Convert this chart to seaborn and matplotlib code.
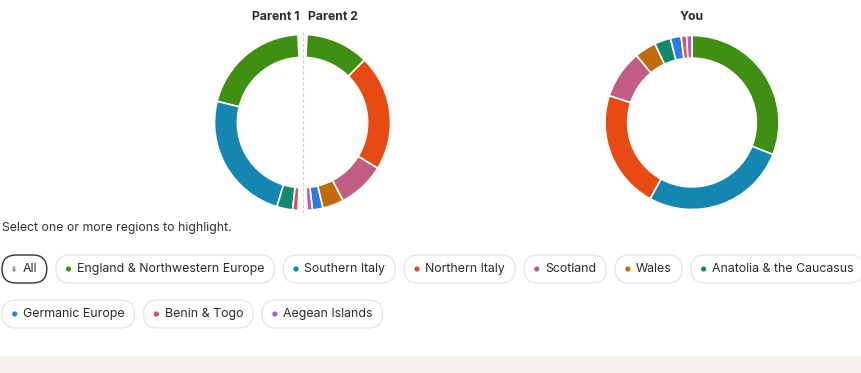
import matplotlib
matplotlib.use('Agg')
import matplotlib.pyplot as plt
import seaborn as sns
from matplotlib.patches import FancyBboxPatch, Circle

# --- data ---
regions = ['England & Northwestern Europe', 'Southern Italy', 'Northern Italy', 'Scotland', 'Wales',
           'Anatolia & the Caucasus', 'Germanic Europe', 'Benin & Togo', 'Aegean Islands']
region_colors = ['#3f8f13', '#1386b1', '#e84a14', '#c15d82', '#c26b0b',
                 '#0f8a6f', '#2b7de5', '#db5350', '#b35cc4']

parent1_pct = [42, 50, 0, 0, 0, 6, 0, 2, 0]
parent2_pct = [24, 0, 44, 18, 8, 0, 4, 0, 2]
you_pct = [31, 27, 22, 9, 4, 3, 2, 1, 1]

sns.set_theme(style='white')
plt.rcParams['font.family'] = ['Inter', 'DejaVu Sans']

W, H = 861, 373
fig = plt.figure(figsize=(W / 100, H / 100), dpi=100)
fig.patch.set_facecolor('white')

# background axes in pixel coords
bg = fig.add_axes([0, 0, 1, 1])
bg.set_xlim(0, W)
bg.set_ylim(H, 0)
bg.axis('off')


def donut_ax(cx, cy, r):
    size = 200
    ax = fig.add_axes([(cx - size / 2) / W, (H - cy - size / 2) / H, size / W, size / H])
    ax.set_aspect('equal')
    ax.axis('off')
    return ax, size / 2 / r


def nonzero(vals):
    pairs = [(v, c) for v, c in zip(vals, region_colors) if v > 0]
    return [p[0] for p in pairs], [p[1] for p in pairs]


wprops = dict(width=0.26, edgecolor='white', linewidth=1.2)
gap = 3.0
span = 180 - 2 * gap

# parents: one half-ring each
ax_p, lim = donut_ax(302.5, 122.5, 88)
v1, c1 = nonzero(parent1_pct)
ax_p.pie([v / 100 * span / 360 for v in v1], colors=c1, startangle=90 + gap,
         counterclock=True, normalize=False, wedgeprops=wprops, radius=1)
v2, c2 = nonzero(parent2_pct)
ax_p.pie([v / 100 * span / 360 for v in v2], colors=c2, startangle=90 - gap,
         counterclock=False, normalize=False, wedgeprops=wprops, radius=1)
ax_p.set_xlim(-lim, lim)
ax_p.set_ylim(-lim, lim)

# you
ax_y, lim = donut_ax(692, 122.5, 87)
vy, cy_ = nonzero(you_pct)
ax_y.pie(vy, colors=cy_, startangle=90, counterclock=False, wedgeprops=wprops, radius=1)
ax_y.set_xlim(-lim, lim)
ax_y.set_ylim(-lim, lim)

# divider and titles
bg.plot([302.5, 302.5], [32, 213], ls=(0, (3, 2)), color='#cfcfcf', lw=0.8)
bg.text(300, 17, 'Parent 1', ha='right', va='center', fontsize=8.8, weight='bold', color='#2b2b2b')
bg.text(307.5, 17, 'Parent 2', ha='left', va='center', fontsize=8.8, weight='bold', color='#2b2b2b')
bg.text(692, 17, 'You', ha='center', va='center', fontsize=8.8, weight='bold', color='#2b2b2b')

bg.text(2, 228, 'Select one or more regions to highlight.', ha='left', va='center',
        fontsize=8.85, color='#333333')

# region pills
renderer = fig.canvas.get_renderer()
labels = ['All'] + regions
rows = [0] * 7 + [1] * 3
row_y = [269, 314]
x = 2
prev_row = 0
for i, lab in enumerate(labels):
    row = rows[i]
    if row != prev_row:
        x = 2
        prev_row = row
    yc = row_y[row]
    t = bg.text(0, yc, lab, ha='left', va='center', fontsize=8.9, color='#2b2b2b')
    tw = t.get_window_extent(renderer).width
    dot_x = x + (12 if i == 0 else 12.7)
    t.set_x(dot_x + 8.3)
    pw = (dot_x + 8.3 + tw + 10) - x
    if i == 0:
        pill = FancyBboxPatch((x, yc - 14), pw, 28, boxstyle='round,pad=0,rounding_size=14',
                              fc='white', ec='#333333', lw=1.0)
        bg.add_patch(pill)
        bg.add_patch(Circle((dot_x, yc - 1.3), 1.4, color='#c26bd0', lw=0))
        bg.add_patch(Circle((dot_x, yc), 1.4, color='#e8a04a', lw=0))
        bg.add_patch(Circle((dot_x, yc + 1.3), 1.4, color='#2b9de5', lw=0))
    else:
        pill = FancyBboxPatch((x, yc - 14), pw, 28, boxstyle='round,pad=0,rounding_size=14',
                              fc='white', ec='#e6e6e6', lw=1.0)
        bg.add_patch(pill)
        bg.add_patch(Circle((dot_x, yc), 2.6, color=region_colors[i - 1], lw=0))
    x += pw + 9

# bottom band
bg.add_patch(plt.Rectangle((0, 356), W, H - 356, color='#f5f1ed', lw=0))

fig.savefig('out.png', dpi=100)
